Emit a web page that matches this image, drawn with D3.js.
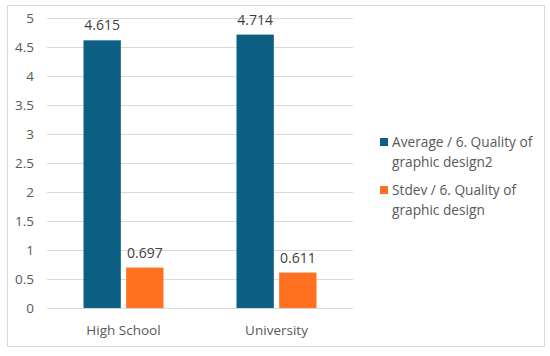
<!DOCTYPE html>
<html><head><meta charset="utf-8">
<script src="https://cdn.jsdelivr.net/npm/d3@7"></script>
<style>body{margin:0;background:#fff;} text{font-family:"Open Sans",sans-serif;}</style>
</head><body>
<svg id="c" width="550" height="356"></svg>
<script>
const categories = ["High School", "University"];
const seriesNames = ["Average / 6. Quality of graphic design2", "Stdev / 6. Quality of graphic design"];
const legendLines = [["Average / 6. Quality of", "graphic design2"], ["Stdev / 6. Quality of", "graphic design"]];
const averageValues = [4.615, 4.714];
const stdevValues = [0.697, 0.611];
const yTicks = [0, 0.5, 1, 1.5, 2, 2.5, 3, 3.5, 4, 4.5, 5];
const colors = ["#0E5F84", "#FF7020"];

const svg = d3.select("#c");
svg.append("rect").attr("x", 7.5).attr("y", 5.5).attr("width", 537).attr("height", 341)
  .attr("fill", "#fff").attr("stroke", "#d9d9d9").attr("stroke-width", 1);

const x0 = d3.scaleBand().domain(categories).range([47, 353]);
const x1 = d3.scaleBand().domain([0, 1]).range([36.5, 116.5]).paddingInner(0.125);
const y = d3.scaleLinear().domain([0, 5]).range([308, 18]);
const textColor = "#595959";

const yAxis = svg.append("g").attr("transform", "translate(47,0)")
  .call(d3.axisLeft(y).tickValues(yTicks).tickSize(-306).tickFormat(d3.format("")));
yAxis.select(".domain").remove();
yAxis.selectAll("line").attr("stroke", "#d9d9d9");
yAxis.selectAll("text").attr("fill", textColor).attr("font-size", 13.5).attr("x", -13);

const xAxis = svg.append("g").attr("transform", "translate(0,308)")
  .call(d3.axisBottom(x0).tickSize(0).tickPadding(17));
xAxis.select(".domain").remove();
xAxis.selectAll("text").attr("fill", textColor).attr("font-size", 13.5);

const series = [averageValues, stdevValues];
categories.forEach((cat, i) => {
  series.forEach((vals, s) => {
    const bx = x0(cat) + x1(s);
    svg.append("rect").attr("x", bx).attr("y", y(vals[i])).attr("width", x1.bandwidth())
      .attr("height", y(0) - y(vals[i])).attr("fill", colors[s]);
    svg.append("text").attr("x", bx + x1.bandwidth() / 2).attr("y", y(vals[i]) - 10)
      .attr("text-anchor", "middle").attr("fill", "#404040").attr("font-size", 14)
      .text(d3.format(".3f")(vals[i]));
  });
});

const legendY = [142, 190];
legendLines.forEach((lines, s) => {
  const g = svg.append("g").attr("transform", `translate(380,${legendY[s]})`);
  g.append("rect").attr("x", 0).attr("y", -4).attr("width", 8).attr("height", 8).attr("fill", colors[s]);
  lines.forEach((ln, k) => {
    g.append("text").attr("x", 12).attr("y", k * 20).attr("dy", "0.35em")
      .attr("fill", textColor).attr("font-size", 13.7).text(ln);
  });
});
</script>
</body></html>
